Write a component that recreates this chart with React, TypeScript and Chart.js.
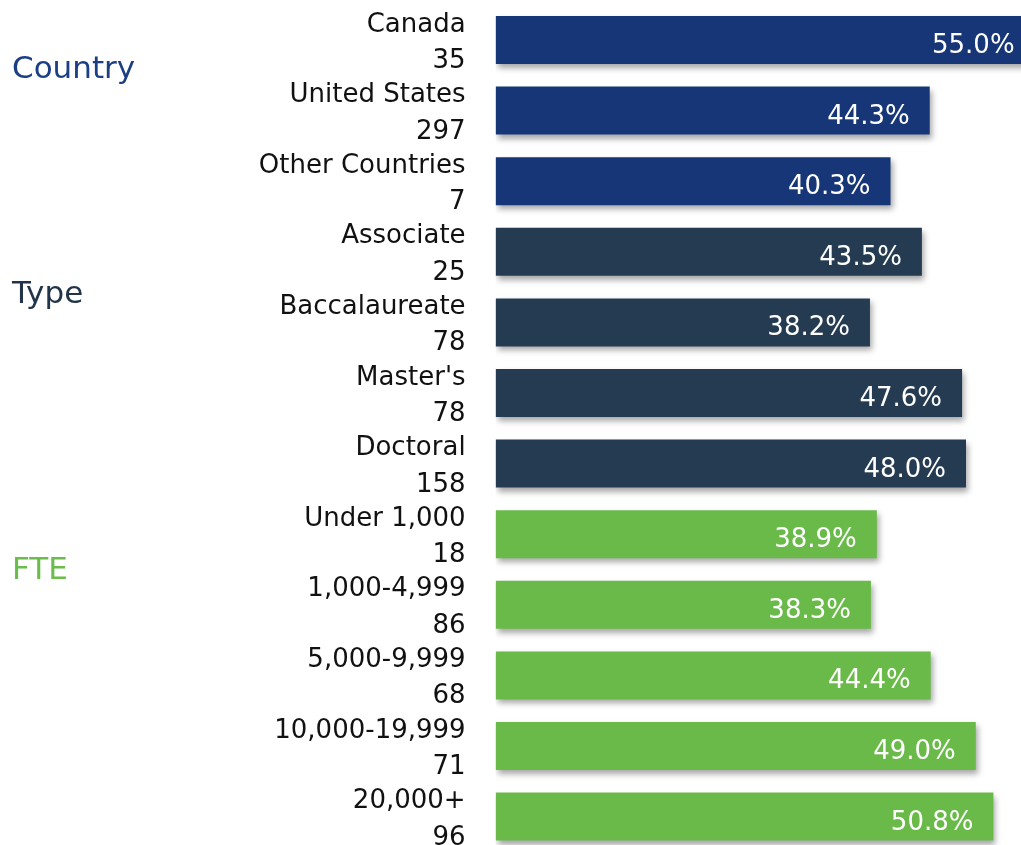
import React, { useEffect, useRef } from "react";
import { Chart, registerables } from "chart.js";

Chart.register(...registerables);

const categories = [
  "Canada",
  "United States",
  "Other Countries",
  "Associate",
  "Baccalaureate",
  "Master's",
  "Doctoral",
  "Under 1,000",
  "1,000-4,999",
  "5,000-9,999",
  "10,000-19,999",
  "20,000+",
];
const counts = [35, 297, 7, 25, 78, 78, 158, 18, 86, 68, 71, 96];
const values = [55.0, 44.3, 40.3, 43.5, 38.2, 47.6, 48.0, 38.9, 38.3, 44.4, 49.0, 50.8];
const groupOf = [0, 0, 0, 1, 1, 1, 1, 2, 2, 2, 2, 2];
const groupNames = ["Country", "Type", "FTE"];
const groupLabelAt = [0.38, 3.57, 7.48];
const barColors = ["#173677", "#253b51", "#6aba4a"];
const groupTextColors = ["#1b3e85", "#22344a", "#6abd4b"];

const FONT = "'DejaVu Sans', 'Noto Sans', sans-serif";

export default function App() {
  const ref = useRef<HTMLCanvasElement | null>(null);

  useEffect(() => {
    if (!ref.current) return;

    const shadowPlugin = {
      id: "barShadow",
      beforeDatasetDraw(chart: any) {
        const ctx = chart.ctx;
        ctx.save();
        ctx.shadowColor = "rgba(0,0,0,0.35)";
        ctx.shadowBlur = 6;
        ctx.shadowOffsetX = 2;
        ctx.shadowOffsetY = 4;
      },
      afterDatasetDraw(chart: any) {
        chart.ctx.restore();
      },
    };

    const labelPlugin = {
      id: "valueLabels",
      afterDatasetsDraw(chart: any) {
        const ctx = chart.ctx;
        const meta = chart.getDatasetMeta(0);
        ctx.save();
        ctx.font = `26px ${FONT}`;
        ctx.fillStyle = "#ffffff";
        ctx.textAlign = "right";
        ctx.textBaseline = "alphabetic";
        meta.data.forEach((bar: any, i: number) => {
          ctx.fillText(values[i].toFixed(1) + "%", bar.x - 20, bar.y + 13);
        });
        ctx.restore();
      },
    };

    const groupPlugin = {
      id: "groupLabels",
      afterDraw(chart: any) {
        const ctx = chart.ctx;
        const y = chart.scales.y;
        ctx.save();
        ctx.font = `31px ${FONT}`;
        ctx.textAlign = "left";
        ctx.textBaseline = "alphabetic";
        groupNames.forEach((g, i) => {
          ctx.fillStyle = groupTextColors[i];
          ctx.fillText(g, 12, y.getPixelForValue(groupLabelAt[i]) + 11);
        });
        ctx.restore();
      },
    };

    const chart = new Chart(ref.current, {
      type: "bar",
      data: {
        labels: categories.map((c, i) => [c, String(counts[i])]),
        datasets: [
          {
            data: values,
            backgroundColor: groupOf.map((g) => barColors[g]),
            borderWidth: 0,
            categoryPercentage: 1,
            barPercentage: 0.68,
          },
        ],
      },
      options: {
        indexAxis: "y",
        animation: false,
        responsive: false,
        devicePixelRatio: 1,
        layout: { padding: { top: 4.7, bottom: 4.1, left: 0, right: 5.4 } },
        plugins: {
          legend: { display: false },
          tooltip: { enabled: false },
        },
        scales: {
          x: {
            display: false,
            min: 0,
            max: 55,
          },
          y: {
            grid: { display: false, drawTicks: false },
            border: { display: false },
            ticks: {
              color: "#111111",
              padding: 30,
              autoSkip: false,
              labelOffset: 3,
              font: { family: FONT, size: 26, lineHeight: 1.4 },
            },
            afterFit(scale: any) {
              scale.width = 495.6;
              scale.paddingTop = 0;
              scale.paddingBottom = 0;
            },
          },
        },
      },
      plugins: [shadowPlugin, labelPlugin, groupPlugin],
    });

    return () => chart.destroy();
  }, []);

  return (
    <div
      style={{
        position: "fixed",
        left: 0,
        top: 0,
        width: 1021,
        height: 845,
        overflow: "hidden",
        background: "#ffffff",
      }}
    >
      <canvas ref={ref} width={1040} height={856} style={{ display: "block" }} />
    </div>
  );
}
